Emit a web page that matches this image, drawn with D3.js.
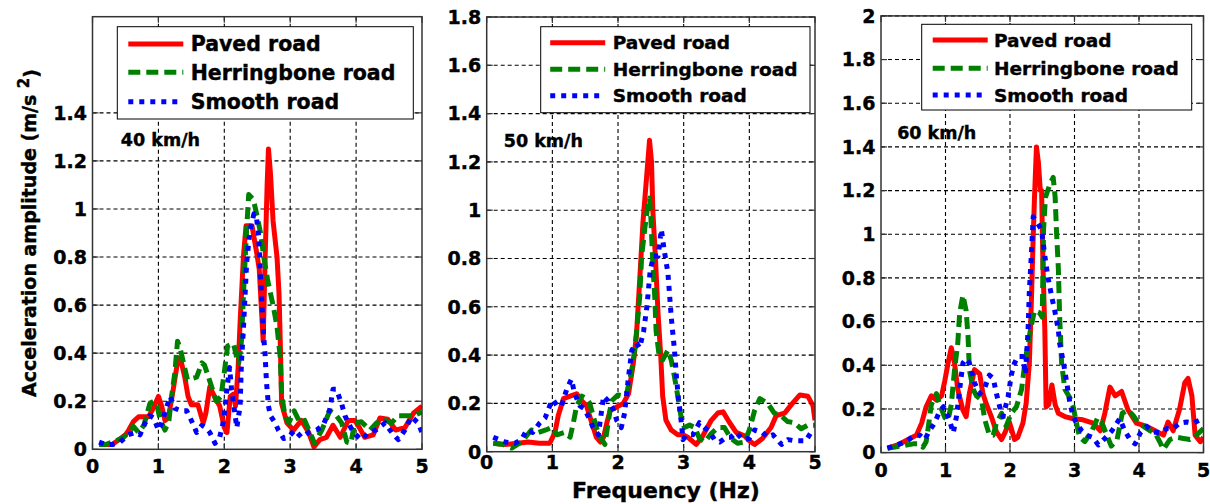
<!DOCTYPE html>
<html>
<head>
<meta charset="utf-8">
<script src="https://cdn.jsdelivr.net/npm/d3@7"></script>
<style>
  body { margin: 0; background: #fff; }
  svg text { font-family: "DejaVu Sans", sans-serif; font-weight: bold; fill: #000; stroke: #000; stroke-width: 0.4px; }
</style>
</head>
<body>
<svg id="chart" width="1210" height="504"></svg>
<script>
// ---- data (frequency in Hz, amplitude in m/s^2) ----
const seriesNames = ['Paved road', 'Herringbone road', 'Smooth road'];
const speedLabels = ['40 km/h', '50 km/h', '60 km/h'];
const xTicks = [0, 1, 2, 3, 4, 5];
const yTicks40 = [0, 0.2, 0.4, 0.6, 0.8, 1, 1.2, 1.4];
const yTicks50 = [0, 0.2, 0.4, 0.6, 0.8, 1, 1.2, 1.4, 1.6, 1.8];
const yTicks60 = [0, 0.2, 0.4, 0.6, 0.8, 1, 1.2, 1.4, 1.6, 1.8, 2];

// 40 km/h
const paved40 = [[0.1,0.02],[0.2,0.02],[0.3,0.02],[0.4,0.04],[0.5,0.06],[0.55,0.08],[0.62,0.115],[0.7,0.135],[0.85,0.135],[0.92,0.17],[1.0,0.22],[1.05,0.18],[1.1,0.12],[1.15,0.13],[1.22,0.24],[1.3,0.38],[1.35,0.36],[1.4,0.3],[1.45,0.22],[1.5,0.185],[1.6,0.185],[1.68,0.11],[1.72,0.15],[1.78,0.26],[1.85,0.22],[1.93,0.18],[2.0,0.09],[2.04,0.07],[2.09,0.22],[2.14,0.23],[2.17,0.18],[2.21,0.34],[2.24,0.53],[2.29,0.8],[2.33,0.93],[2.42,0.93],[2.49,0.82],[2.53,0.75],[2.57,0.55],[2.59,0.45],[2.62,0.8],[2.65,1.1],[2.67,1.25],[2.7,1.15],[2.74,0.95],[2.8,0.8],[2.83,0.65],[2.85,0.44],[2.87,0.19],[2.95,0.11],[3.05,0.08],[3.17,0.12],[3.28,0.07],[3.36,0.01],[3.45,0.04],[3.55,0.05],[3.65,0.1],[3.76,0.05],[3.88,0.12],[3.98,0.12],[4.05,0.09],[4.13,0.05],[4.26,0.06],[4.36,0.13],[4.48,0.125],[4.6,0.08],[4.74,0.09],[4.87,0.15],[5.0,0.18]];
const herring40 = [[0.1,0.02],[0.2,0.02],[0.3,0.03],[0.4,0.04],[0.47,0.05],[0.55,0.07],[0.62,0.095],[0.7,0.07],[0.78,0.1],[0.87,0.19],[0.93,0.2],[0.98,0.18],[1.03,0.12],[1.1,0.08],[1.16,0.12],[1.2,0.22],[1.25,0.32],[1.29,0.45],[1.33,0.42],[1.38,0.36],[1.44,0.29],[1.58,0.3],[1.66,0.36],[1.7,0.35],[1.76,0.3],[1.82,0.25],[1.88,0.2],[1.95,0.22],[2.0,0.32],[2.05,0.43],[2.14,0.44],[2.19,0.38],[2.22,0.36],[2.26,0.45],[2.3,0.7],[2.34,0.92],[2.37,1.06],[2.44,1.04],[2.49,0.98],[2.55,0.9],[2.6,0.8],[2.66,0.7],[2.74,0.6],[2.8,0.51],[2.85,0.38],[2.87,0.23],[2.92,0.14],[2.98,0.11],[3.06,0.16],[3.15,0.11],[3.22,0.12],[3.3,0.07],[3.37,0.025],[3.48,0.08],[3.6,0.16],[3.7,0.14],[3.78,0.11],[3.86,0.03],[3.92,0.025],[3.98,0.11],[4.08,0.115],[4.21,0.08],[4.31,0.11],[4.44,0.12],[4.54,0.11],[4.64,0.14],[4.74,0.14],[4.87,0.14],[5.0,0.155]];
const smooth40 = [[0.1,0.03],[0.2,0.02],[0.3,0.02],[0.42,0.03],[0.54,0.06],[0.65,0.07],[0.72,0.06],[0.8,0.11],[0.87,0.14],[0.93,0.13],[1.0,0.08],[1.05,0.11],[1.13,0.18],[1.18,0.22],[1.25,0.17],[1.35,0.16],[1.43,0.16],[1.5,0.12],[1.58,0.07],[1.66,0.1],[1.72,0.09],[1.78,0.07],[1.86,0.025],[1.93,0.05],[1.99,0.12],[2.04,0.25],[2.08,0.34],[2.11,0.25],[2.16,0.15],[2.19,0.09],[2.24,0.18],[2.26,0.36],[2.29,0.5],[2.34,0.78],[2.39,0.91],[2.45,0.98],[2.49,0.96],[2.52,0.89],[2.55,0.72],[2.59,0.5],[2.62,0.39],[2.64,0.28],[2.67,0.18],[2.7,0.14],[2.77,0.11],[2.82,0.08],[2.9,0.045],[2.97,0.05],[3.07,0.08],[3.17,0.05],[3.28,0.07],[3.4,0.08],[3.5,0.1],[3.6,0.165],[3.65,0.25],[3.7,0.25],[3.78,0.19],[3.83,0.14],[3.92,0.09],[4.0,0.06],[4.08,0.04],[4.19,0.07],[4.3,0.08],[4.44,0.11],[4.54,0.07],[4.64,0.04],[4.74,0.08],[4.84,0.135],[4.94,0.11],[5.0,0.07]];

// 50 km/h
const paved50 = [[0.1,0.035],[0.28,0.03],[0.48,0.035],[0.63,0.04],[0.8,0.035],[0.96,0.035],[1.04,0.08],[1.09,0.15],[1.17,0.22],[1.27,0.23],[1.37,0.24],[1.45,0.21],[1.52,0.19],[1.6,0.12],[1.67,0.06],[1.73,0.04],[1.78,0.06],[1.83,0.12],[1.88,0.17],[1.98,0.185],[2.08,0.2],[2.16,0.24],[2.23,0.36],[2.28,0.48],[2.33,0.71],[2.38,0.95],[2.43,1.12],[2.48,1.29],[2.51,1.2],[2.53,1.0],[2.57,0.8],[2.61,0.57],[2.65,0.4],[2.68,0.23],[2.73,0.13],[2.81,0.09],[2.91,0.07],[2.99,0.07],[3.06,0.06],[3.19,0.03],[3.29,0.065],[3.42,0.13],[3.52,0.16],[3.6,0.165],[3.7,0.12],[3.8,0.08],[3.93,0.065],[4.0,0.045],[4.08,0.03],[4.2,0.055],[4.33,0.1],[4.41,0.15],[4.54,0.16],[4.64,0.195],[4.77,0.235],[4.89,0.23],[4.97,0.19],[5.0,0.13]];
const herring50 = [[0.1,0.035],[0.25,0.03],[0.38,0.015],[0.53,0.04],[0.68,0.09],[0.79,0.08],[0.9,0.09],[0.99,0.1],[1.07,0.07],[1.19,0.08],[1.27,0.06],[1.32,0.12],[1.37,0.19],[1.45,0.23],[1.52,0.22],[1.57,0.2],[1.62,0.15],[1.67,0.1],[1.73,0.06],[1.8,0.03],[1.85,0.12],[1.9,0.21],[2.0,0.235],[2.08,0.23],[2.13,0.24],[2.18,0.3],[2.23,0.37],[2.28,0.49],[2.33,0.64],[2.36,0.81],[2.41,0.93],[2.46,1.03],[2.48,1.05],[2.5,0.97],[2.53,0.78],[2.56,0.64],[2.58,0.5],[2.63,0.39],[2.68,0.38],[2.76,0.42],[2.81,0.38],[2.86,0.31],[2.91,0.23],[2.96,0.145],[3.01,0.1],[3.09,0.11],[3.17,0.1],[3.24,0.055],[3.32,0.04],[3.42,0.075],[3.52,0.1],[3.62,0.1],[3.72,0.055],[3.82,0.035],[3.93,0.04],[4.0,0.09],[4.08,0.17],[4.16,0.22],[4.28,0.2],[4.38,0.16],[4.48,0.15],[4.58,0.125],[4.68,0.12],[4.79,0.095],[4.89,0.11],[5.0,0.11]];
const smooth50 = [[0.1,0.06],[0.28,0.04],[0.43,0.035],[0.53,0.05],[0.61,0.09],[0.7,0.08],[0.81,0.12],[0.89,0.14],[0.96,0.19],[1.01,0.215],[1.07,0.19],[1.14,0.19],[1.22,0.26],[1.29,0.3],[1.34,0.24],[1.42,0.19],[1.48,0.18],[1.55,0.145],[1.62,0.1],[1.7,0.07],[1.74,0.15],[1.78,0.23],[1.85,0.21],[1.92,0.18],[1.98,0.13],[2.05,0.1],[2.1,0.16],[2.16,0.31],[2.21,0.42],[2.28,0.45],[2.33,0.43],[2.39,0.5],[2.44,0.6],[2.49,0.75],[2.54,0.81],[2.61,0.81],[2.66,0.92],[2.7,0.84],[2.76,0.74],[2.81,0.56],[2.86,0.42],[2.89,0.31],[2.92,0.22],[2.96,0.13],[2.99,0.05],[3.04,0.07],[3.14,0.07],[3.24,0.12],[3.32,0.1],[3.4,0.08],[3.47,0.05],[3.55,0.04],[3.65,0.06],[3.72,0.06],[3.8,0.08],[3.9,0.05],[4.0,0.055],[4.08,0.09],[4.2,0.08],[4.28,0.06],[4.36,0.07],[4.49,0.03],[4.59,0.05],[4.69,0.045],[4.86,0.045],[4.94,0.08],[5.0,0.09]];

// 60 km/h
const paved60 = [[0.1,0.02],[0.26,0.035],[0.42,0.06],[0.55,0.08],[0.63,0.135],[0.7,0.21],[0.78,0.26],[0.86,0.24],[0.94,0.26],[0.99,0.33],[1.04,0.41],[1.09,0.48],[1.14,0.41],[1.19,0.29],[1.27,0.195],[1.32,0.165],[1.37,0.27],[1.45,0.38],[1.53,0.36],[1.58,0.27],[1.63,0.225],[1.71,0.165],[1.79,0.095],[1.87,0.06],[1.92,0.09],[1.99,0.14],[2.07,0.06],[2.12,0.07],[2.2,0.135],[2.25,0.225],[2.3,0.41],[2.33,0.68],[2.36,0.99],[2.38,1.17],[2.41,1.4],[2.44,1.33],[2.47,1.2],[2.49,1.2],[2.51,0.87],[2.54,0.56],[2.56,0.21],[2.6,0.22],[2.65,0.31],[2.7,0.22],[2.75,0.18],[2.85,0.165],[2.98,0.155],[3.13,0.15],[3.29,0.135],[3.4,0.1],[3.47,0.18],[3.55,0.3],[3.63,0.26],[3.73,0.28],[3.83,0.195],[3.96,0.135],[4.12,0.12],[4.25,0.1],[4.38,0.08],[4.45,0.14],[4.53,0.1],[4.63,0.2],[4.71,0.32],[4.76,0.34],[4.82,0.26],[4.87,0.08],[4.95,0.05],[5.0,0.07]];
const herring60 = [[0.1,0.02],[0.3,0.03],[0.5,0.04],[0.6,0.04],[0.65,0.025],[0.7,0.05],[0.74,0.13],[0.78,0.22],[0.86,0.27],[0.91,0.22],[0.99,0.16],[1.04,0.15],[1.09,0.22],[1.14,0.38],[1.19,0.5],[1.22,0.64],[1.27,0.72],[1.32,0.65],[1.35,0.53],[1.37,0.38],[1.43,0.29],[1.48,0.26],[1.56,0.24],[1.61,0.15],[1.68,0.08],[1.74,0.08],[1.79,0.135],[1.87,0.18],[1.94,0.12],[2.02,0.18],[2.1,0.21],[2.18,0.29],[2.23,0.41],[2.28,0.5],[2.33,0.58],[2.38,0.65],[2.46,0.64],[2.5,0.62],[2.52,1.02],[2.55,1.17],[2.62,1.23],[2.67,1.26],[2.7,1.17],[2.72,1.02],[2.75,0.84],[2.77,0.62],[2.8,0.41],[2.85,0.29],[2.93,0.25],[2.98,0.21],[3.03,0.135],[3.08,0.07],[3.16,0.05],[3.27,0.1],[3.36,0.16],[3.42,0.14],[3.5,0.08],[3.57,0.03],[3.66,0.06],[3.74,0.18],[3.83,0.195],[3.91,0.17],[3.99,0.135],[4.07,0.12],[4.17,0.1],[4.25,0.09],[4.32,0.05],[4.38,0.015],[4.48,0.06],[4.58,0.07],[4.69,0.065],[4.79,0.06],[4.89,0.08],[5.0,0.11]];
const smooth60 = [[0.1,0.02],[0.24,0.035],[0.39,0.05],[0.52,0.08],[0.6,0.08],[0.68,0.06],[0.75,0.1],[0.83,0.135],[0.91,0.19],[0.97,0.21],[1.06,0.15],[1.12,0.09],[1.17,0.165],[1.22,0.29],[1.27,0.41],[1.32,0.43],[1.37,0.41],[1.45,0.32],[1.53,0.27],[1.6,0.29],[1.68,0.355],[1.74,0.34],[1.79,0.27],[1.84,0.21],[1.89,0.165],[1.97,0.255],[2.02,0.355],[2.07,0.41],[2.12,0.44],[2.2,0.44],[2.24,0.36],[2.28,0.56],[2.3,0.74],[2.33,0.9],[2.36,1.08],[2.43,1.05],[2.49,1.02],[2.54,0.9],[2.59,0.8],[2.65,0.71],[2.7,0.64],[2.75,0.56],[2.77,0.5],[2.83,0.41],[2.88,0.32],[2.93,0.225],[2.98,0.165],[3.03,0.135],[3.11,0.1],[3.19,0.08],[3.28,0.07],[3.37,0.035],[3.47,0.065],[3.58,0.1],[3.7,0.155],[3.78,0.1],[3.86,0.06],[3.94,0.04],[4.02,0.09],[4.12,0.12],[4.22,0.095],[4.33,0.09],[4.43,0.11],[4.53,0.11],[4.63,0.135],[4.74,0.14],[4.84,0.135],[4.95,0.15],[5.0,0.15]];

// ---- layout of the three axes (pixels) ----
const panels = [
    { left: 92.5, right: 422, top: 16.7, bottom: 449.3, yMax: 1.8, yTicks: yTicks40,
      series: [paved40, herring40, smooth40], label: speedLabels[0], labelAt: [0.43, 1.26],
      xLabelDy: 24, legend: { x: 117.3, y: 26.7, w: 296, h: 92.3, font: 20.5, rows: [17.3, 45.6, 75], sample: 11, text: 73.4 } },
    { left: 486.7, right: 815, top: 17, bottom: 451.7, yMax: 1.8, yTicks: yTicks50,
      series: [paved50, herring50, smooth50], label: speedLabels[1], labelAt: [0.26, 1.263],
      xLabelDy: 17.5, legend: { x: 540.7, y: 26.7, w: 269.3, h: 86, font: 18.5, rows: [16, 42.6, 69], sample: 9.5, text: 72 } },
    { left: 881, right: 1203.5, top: 15.9, bottom: 452.6, yMax: 2, yTicks: yTicks60,
      series: [paved60, herring60, smooth60], label: speedLabels[2], labelAt: [0.25, 1.438],
      xLabelDy: 24, legend: { x: 921.7, y: 24.3, w: 270, h: 85.7, font: 18.5, rows: [15.7, 44, 70.7], sample: 11, text: 72.3 } }
];

// line styles: red solid, green dashed, blue dotted
const lineStyles = [
    { color: '#ff0000', dash: null },
    { color: '#008000', dash: '12,6' },
    { color: '#0000ff', dash: '5,6' }
];
const lineWidth = 5;

const svg = d3.select('#chart');
const fmt = d => d === 0 ? '0' : String(+d.toFixed(1));

panels.forEach((p, pi) => {
    const x = d3.scaleLinear().domain([0, 5]).range([p.left, p.right]);
    const y = d3.scaleLinear().domain([0, p.yMax]).range([p.bottom, p.top]);
    const g = svg.append('g');

    // white axes background
    g.append('rect')
        .attr('x', p.left).attr('y', p.top)
        .attr('width', p.right - p.left).attr('height', p.bottom - p.top)
        .attr('fill', '#fff');

    // grid lines (dotted)
    g.selectAll('.gx').data(xTicks.slice(1, -1)).enter().append('line')
        .attr('x1', d => x(d)).attr('x2', d => x(d))
        .attr('y1', p.top).attr('y2', p.bottom)
        .attr('stroke', '#000').attr('stroke-width', 1.1).attr('stroke-dasharray', '4,3');
    g.selectAll('.gy').data(p.yTicks.slice(1)).enter().append('line')
        .attr('y1', d => y(d)).attr('y2', d => y(d))
        .attr('x1', p.left).attr('x2', p.right)
        .attr('stroke', '#000').attr('stroke-width', 1.1).attr('stroke-dasharray', '4,3');

    // clip the curves to the axes box
    const clipId = 'clip' + pi;
    svg.append('clipPath').attr('id', clipId).append('rect')
        .attr('x', p.left).attr('y', p.top)
        .attr('width', p.right - p.left).attr('height', p.bottom - p.top);

    const line = d3.line().x(d => x(d[0])).y(d => y(d[1]));
    p.series.forEach((s, si) => {
        g.append('path')
            .datum(s)
            .attr('clip-path', `url(#${clipId})`)
            .attr('d', line)
            .attr('fill', 'none')
            .attr('stroke', lineStyles[si].color)
            .attr('stroke-width', lineWidth)
            .attr('stroke-linejoin', 'round')
            .attr('stroke-dasharray', lineStyles[si].dash);
    });

    // ticks pointing inwards on all four sides
    const tl = 6;
    xTicks.forEach(t => {
        g.append('line').attr('x1', x(t)).attr('x2', x(t)).attr('y1', p.bottom).attr('y2', p.bottom - tl)
            .attr('stroke', '#333').attr('stroke-width', 1.2);
        g.append('line').attr('x1', x(t)).attr('x2', x(t)).attr('y1', p.top).attr('y2', p.top + tl)
            .attr('stroke', '#333').attr('stroke-width', 1.2);
    });
    p.yTicks.forEach(t => {
        g.append('line').attr('x1', p.left).attr('x2', p.left + tl).attr('y1', y(t)).attr('y2', y(t))
            .attr('stroke', '#333').attr('stroke-width', 1.2);
        g.append('line').attr('x1', p.right).attr('x2', p.right - tl).attr('y1', y(t)).attr('y2', y(t))
            .attr('stroke', '#333').attr('stroke-width', 1.2);
    });

    // box
    g.append('rect')
        .attr('x', p.left).attr('y', p.top)
        .attr('width', p.right - p.left).attr('height', p.bottom - p.top)
        .attr('fill', 'none').attr('stroke', '#333').attr('stroke-width', 1.5);

    // tick labels
    g.selectAll('.xl').data(xTicks).enter().append('text')
        .attr('x', d => x(d)).attr('y', p.bottom + p.xLabelDy)
        .attr('text-anchor', 'middle')
        .style('font-size', '19px')
        .text(d => d);
    g.selectAll('.yl').data(p.yTicks).enter().append('text')
        .attr('x', p.left - 5.5).attr('y', d => y(d))
        .attr('text-anchor', 'end')
        .attr('dy', '0.36em')
        .style('font-size', '19px')
        .text(fmt);

    // speed annotation
    g.append('text')
        .attr('x', x(p.labelAt[0])).attr('y', y(p.labelAt[1]))
        .style('font-size', '17.5px')
        .text(p.label);

    // legend
    const L = p.legend;
    const lg = g.append('g').attr('transform', `translate(${L.x},${L.y})`);
    lg.append('rect').attr('width', L.w).attr('height', L.h)
        .attr('fill', '#fff').attr('stroke', '#000').attr('stroke-width', 1);
    seriesNames.forEach((name, si) => {
        lg.append('line')
            .attr('x1', L.sample).attr('x2', L.sample + 55)
            .attr('y1', L.rows[si]).attr('y2', L.rows[si])
            .attr('stroke', lineStyles[si].color)
            .attr('stroke-width', lineWidth)
            .attr('stroke-dasharray', lineStyles[si].dash);
        lg.append('text')
            .attr('x', L.text).attr('y', L.rows[si])
            .attr('dy', '0.36em')
            .style('font-size', L.font + 'px')
            .text(name);
    });
});

// axis titles
const yTitle = svg.append('text')
    .attr('transform', 'translate(36,233) rotate(-90)')
    .attr('text-anchor', 'middle')
    .style('font-size', '19px');
yTitle.append('tspan').text('Acceleration amplitude (m/s ');
yTitle.append('tspan').attr('dy', '-0.45em').style('font-size', '15px').text('2');
yTitle.append('tspan').attr('dy', '0.45em').text(')');

svg.append('text')
    .attr('x', 666).attr('y', 498)
    .attr('text-anchor', 'middle')
    .style('font-size', '22px')
    .text('Frequency (Hz)');
</script>
</body>
</html>
